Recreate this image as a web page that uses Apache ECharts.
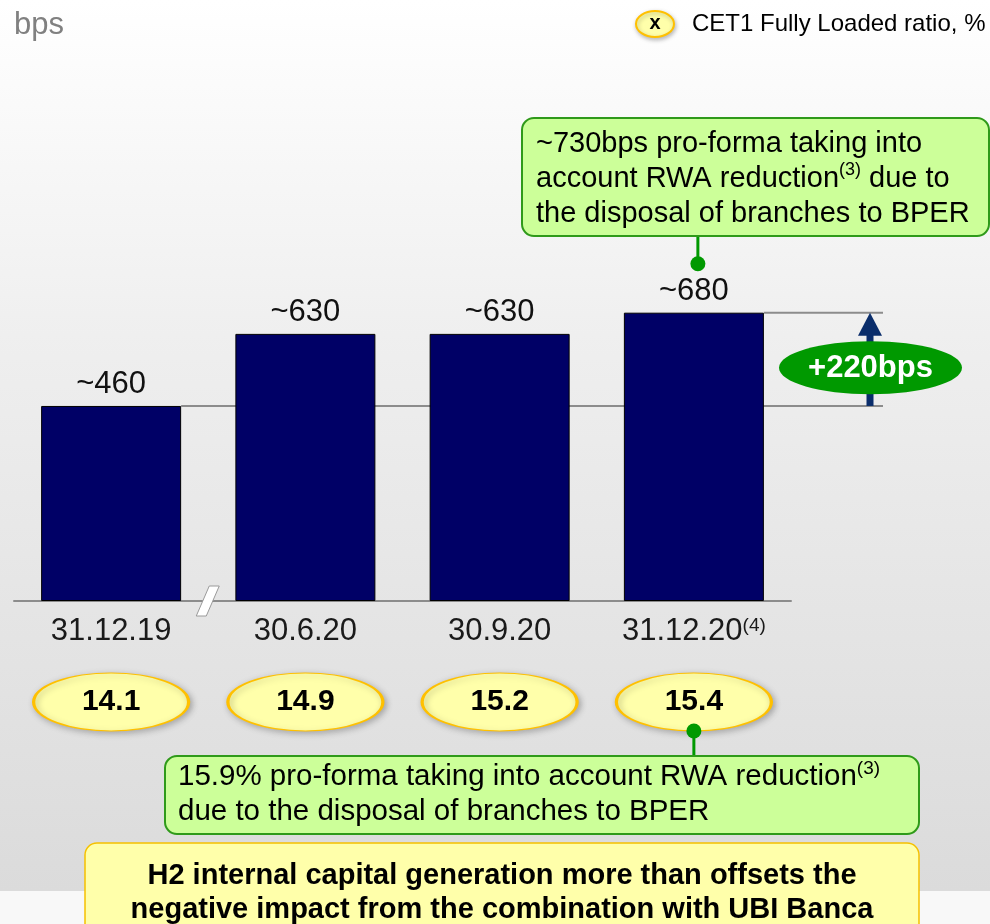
<!DOCTYPE html>
<html>
<head>
<meta charset="utf-8">
<script src="https://cdn.jsdelivr.net/npm/echarts@6/dist/echarts.min.js"></script>
<style>
  html, body { margin: 0; padding: 0; background: #ffffff; }
  #chart { width: 990px; height: 924px; }
</style>
</head>
<body>
<div id="chart"></div>
<script>
// CET1 capital buffer (bps) per reporting date, with the Fully Loaded ratio underneath
const categories = ['31.12.19', '30.6.20', '30.9.20', '31.12.20'];
const categoryNotes = ['', '', '', '(4)'];
const capitalBps = [460, 630, 630, 680];
const cet1Ratio = [14.1, 14.9, 15.2, 15.4];
const proFormaBps = 730;
const proFormaRatio = 15.9;

const FONT = '"Liberation Sans", Arial, Helvetica, sans-serif';
const chart = echarts.init(document.getElementById('chart'), null, { renderer: 'canvas' });

// ellipse outline used for the ratio badges (stretched to symbolSize)
const ELLIPSE = 'path://M0,30 A50,30 0 1,1 100,30 A50,30 0 1,1 0,30 Z';

chart.setOption({
  animation: false,
  textStyle: { fontFamily: FONT },
  grid: [
    { left: 14, right: 199, top: 177, bottom: 323 },
    { left: 14, right: 199, top: 673, height: 58 }
  ],
  xAxis: [
    {
      gridIndex: 0, type: 'category', data: categories,
      axisTick: { show: false },
      axisLine: { lineStyle: { color: '#8c8c8c', width: 2 } },
      axisLabel: {
        interval: 0, hideOverlap: false,
        margin: 15, fontSize: 31, color: '#1a1a1a', fontFamily: FONT,
        formatter: (v, i) => categoryNotes[i] ? v + '{sup|' + categoryNotes[i] + '}' : v,
        rich: { sup: { fontSize: 19, color: '#1a1a1a', verticalAlign: 'top', fontFamily: FONT } }
      }
    },
    { gridIndex: 1, type: 'category', data: categories, show: false }
  ],
  yAxis: [
    { gridIndex: 0, type: 'value', min: 0, max: 1000, show: false },
    { gridIndex: 1, type: 'value', min: -1, max: 1, show: false }
  ],
  series: [
    {
      type: 'bar', xAxisIndex: 0, yAxisIndex: 0, data: capitalBps, barWidth: 140, z: 3,
      itemStyle: { color: '#000066', borderColor: '#000000', borderWidth: 1 },
      label: {
        show: true, position: 'top', distance: 6, fontSize: 31, color: '#111111', fontFamily: FONT,
        formatter: p => '~' + p.value
      },
      emphasis: { disabled: true }
    },
    {
      type: 'scatter', xAxisIndex: 1, yAxisIndex: 1, z: 4,
      data: cet1Ratio.map((r, i) => [categories[i], 0, r]),
      symbol: ELLIPSE, symbolSize: [155, 58],
      itemStyle: {
        color: '#ffffaa', borderColor: '#ffc000', borderWidth: 2, opacity: 1,
        shadowBlur: 6, shadowColor: 'rgba(0,0,0,0.25)', shadowOffsetX: 2, shadowOffsetY: 2
      },
      label: {
        show: true, position: 'inside', fontSize: 30, fontWeight: 'bold', color: '#000000', fontFamily: FONT,
        formatter: p => p.value[2].toFixed(1)
      },
      emphasis: { disabled: true }
    }
  ]
});

function txt(x, y, text, s) {
  return {
    type: 'text', x: x, y: y, z: s.z || 20,
    style: Object.assign({
      text: text, fontFamily: FONT, fill: '#000000',
      align: s.align || 'left', textAlign: s.align || 'left',
      verticalAlign: s.va || 'middle', textVerticalAlign: s.va || 'middle'
    }, s.style)
  };
}

const px = (i, v) => chart.convertToPixel({ gridIndex: 0 }, [i, v]);
const last = capitalBps.length - 1;
const p0 = px(0, capitalBps[0]);
const pN = px(last, capitalBps[last]);
const p1 = px(1, 0);
const base = px(0, 0)[1];
const halfBar = 70;
const refEnd = 883;
const arrowX = 870;
const yLow = p0[1], yHigh = pN[1];
const ratioPt = chart.convertToPixel({ gridIndex: 1 }, [last, 0]);
const breakX = (p0[0] + p1[0]) / 2;

const graphics = [
  // page background
  {
    type: 'rect', z: -10, silent: true,
    shape: { x: 0, y: 0, width: 990, height: 891 },
    style: { fill: new echarts.graphic.LinearGradient(0, 0, 0, 1, [
      { offset: 0, color: '#ffffff' },
      { offset: 0.4, color: '#eeeeee' },
      { offset: 1, color: '#dbdbdb' }
    ]) }
  },
  { type: 'rect', z: -10, silent: true, shape: { x: 0, y: 891, width: 990, height: 33 }, style: { fill: '#f8f8f8' } },

  // unit and legend
  txt(14, 25, 'bps', { style: { fontSize: 31, fill: '#808080' } }),
  {
    type: 'ellipse', z: 20, shape: { cx: 655, cy: 24, rx: 19, ry: 13 },
    style: { fill: '#ffffaa', stroke: '#ffc000', lineWidth: 2, shadowBlur: 4, shadowColor: 'rgba(0,0,0,0.25)', shadowOffsetX: 1, shadowOffsetY: 2 }
  },
  txt(655, 23, 'x', { align: 'center', style: { fontSize: 20, fontWeight: 'bold' } }),
  txt(692, 24, 'CET1 Fully Loaded ratio, %', { style: { fontSize: 24 } }),

  // reference lines at the first and last bar heights
  { type: 'line', z: 1, shape: { x1: p0[0] + halfBar, y1: yLow, x2: refEnd, y2: yLow }, style: { stroke: '#8c8c8c', lineWidth: 2 } },
  { type: 'line', z: 1, shape: { x1: pN[0] + halfBar, y1: yHigh, x2: refEnd, y2: yHigh }, style: { stroke: '#8c8c8c', lineWidth: 2 } },

  // increase arrow
  { type: 'rect', z: 10, shape: { x: arrowX - 3.5, y: yHigh + 20, width: 7, height: yLow - yHigh - 20 }, style: { fill: '#0a2d6b' } },
  { type: 'polygon', z: 10, shape: { points: [[arrowX - 12, yHigh + 23], [arrowX, yHigh], [arrowX + 12, yHigh + 23]] }, style: { fill: '#0a2d6b' } },
  { type: 'ellipse', z: 11, shape: { cx: arrowX + 0.5, cy: (yLow + yHigh) / 2 + 8.5, rx: 91.5, ry: 26.5 }, style: { fill: '#009900' } },
  txt(arrowX + 0.5, (yLow + yHigh) / 2 + 9, '+' + (capitalBps[last] - capitalBps[0]) + 'bps', { align: 'center', z: 12, style: { fontSize: 31, fontWeight: 'bold', fill: '#ffffff' } }),

  // axis break between the first two dates
  {
    type: 'polygon', z: 10,
    shape: { points: [[breakX + 1, base - 15], [breakX + 11, base - 15], [breakX - 2, base + 15], [breakX - 12, base + 15]] },
    style: { fill: '#ffffff', stroke: '#9a9a9a', lineWidth: 1 }
  },

  // pro-forma note for the latest buffer
  { type: 'line', z: 15, shape: { x1: pN[0] + 4, y1: 236, x2: pN[0] + 4, y2: yHigh - 49 }, style: { stroke: '#009900', lineWidth: 3 } },
  { type: 'circle', z: 16, shape: { cx: pN[0] + 4, cy: yHigh - 49, r: 7.5 }, style: { fill: '#009900' } },
  { type: 'rect', z: 15, shape: { x: 522, y: 118, width: 467, height: 118, r: 12 }, style: { fill: '#ccff99', stroke: '#2f9a1a', lineWidth: 2 } },
  {
    type: 'text', x: 536, y: 126, z: 17,
    style: {
      text: '~' + proFormaBps + 'bps pro-forma taking into\naccount RWA reduction{sup|(3)} due to\nthe disposal of branches to BPER',
      fontFamily: FONT, fontSize: 29, lineHeight: 35, fill: '#000000',
      align: 'left', textAlign: 'left', verticalAlign: 'top', textVerticalAlign: 'top',
      rich: { sup: { fontSize: 18, lineHeight: 35, verticalAlign: 'top', fontFamily: FONT, fill: '#000000' } }
    }
  },

  // pro-forma note for the latest ratio
  { type: 'line', z: 15, shape: { x1: ratioPt[0], y1: ratioPt[1] + 29, x2: ratioPt[0], y2: 756 }, style: { stroke: '#009900', lineWidth: 3 } },
  { type: 'circle', z: 16, shape: { cx: ratioPt[0], cy: ratioPt[1] + 29, r: 7.5 }, style: { fill: '#009900' } },
  { type: 'rect', z: 15, shape: { x: 165, y: 756, width: 754, height: 78, r: 12 }, style: { fill: '#ccff99', stroke: '#2f9a1a', lineWidth: 2 } },
  {
    type: 'text', x: 178, y: 759, z: 17,
    style: {
      text: proFormaRatio.toFixed(1) + '% pro-forma taking into account RWA reduction{sup|(3)}\ndue to the disposal of branches to BPER',
      fontFamily: FONT, fontSize: 29.5, lineHeight: 35, fill: '#000000',
      align: 'left', textAlign: 'left', verticalAlign: 'top', textVerticalAlign: 'top',
      rich: { sup: { fontSize: 19, lineHeight: 35, verticalAlign: 'top', fontFamily: FONT, fill: '#000000' } }
    }
  },

  // key message
  { type: 'rect', z: 15, shape: { x: 85, y: 843, width: 834, height: 110, r: 12 }, style: { fill: '#ffffaa', stroke: '#f5c000', lineWidth: 1.5 } },
  {
    type: 'text', x: 502, y: 859, z: 17,
    style: {
      text: 'H2 internal capital generation more than offsets the\nnegative impact from the combination with UBI Banca',
      fontFamily: FONT, fontSize: 29, fontWeight: 'bold', lineHeight: 34, fill: '#000000',
      align: 'center', textAlign: 'center', verticalAlign: 'top', textVerticalAlign: 'top'
    }
  }
];

chart.setOption({ graphic: graphics });
</script>
</body>
</html>
